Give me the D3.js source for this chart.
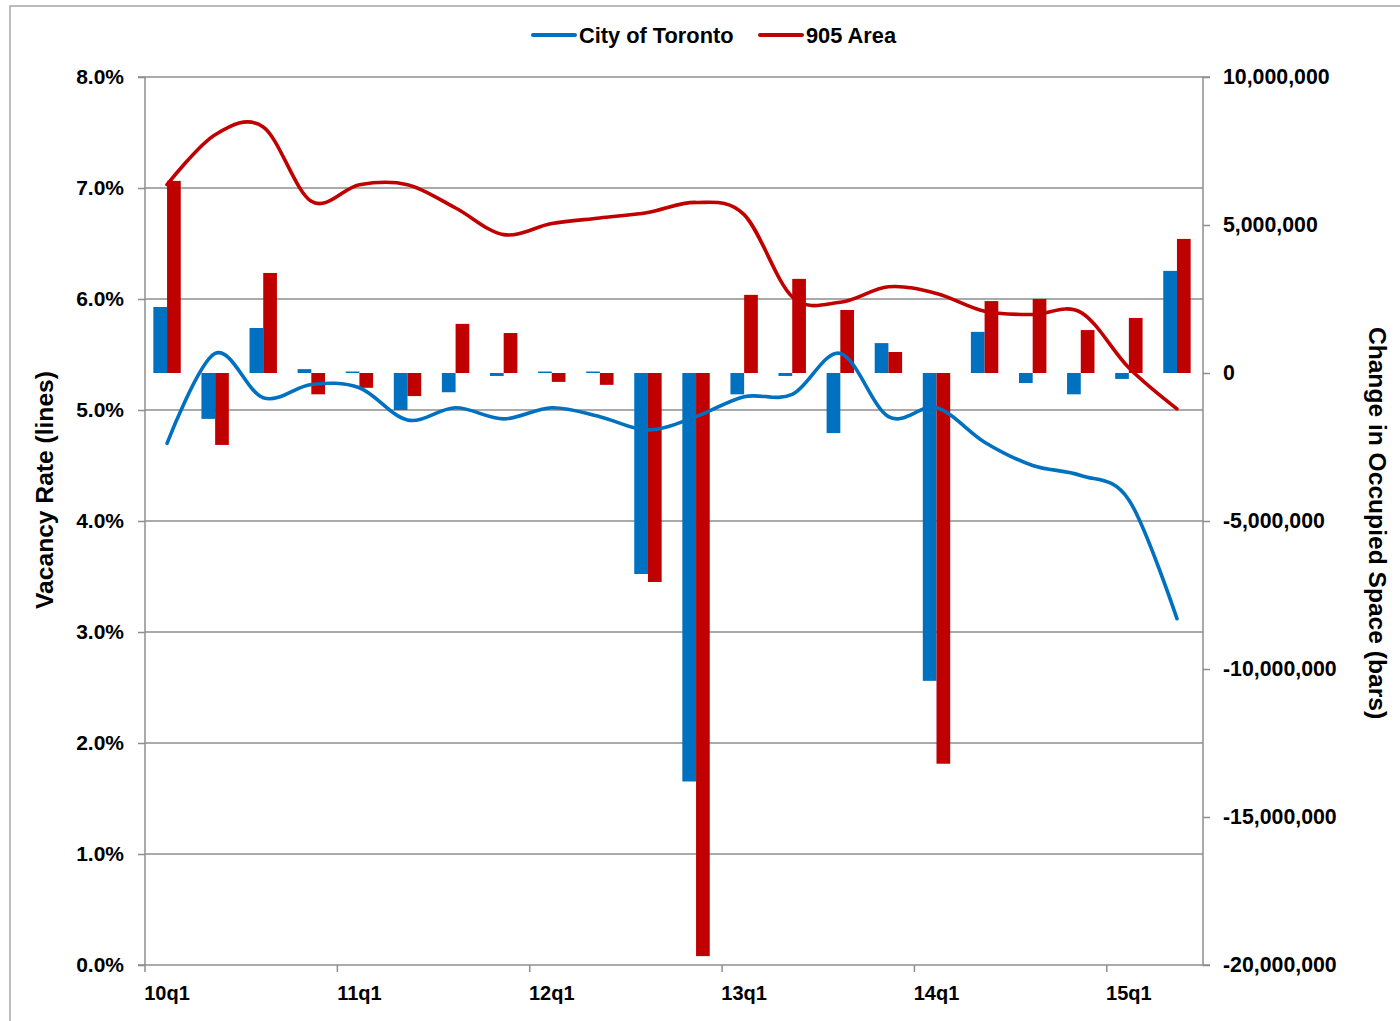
<!DOCTYPE html>
<html>
<head>
<meta charset="utf-8">
<script src="https://cdn.jsdelivr.net/npm/d3@7"></script>
<style>
  html, body { margin: 0; padding: 0; background: #fff; }
  svg { display: block; font-family: "Liberation Sans", Arial, sans-serif; font-weight: bold; }
</style>
</head>
<body>
<svg id="chart" width="1400" height="1021"></svg>
<script>
const quarters = ["10q1","10q2","10q3","10q4","11q1","11q2","11q3","11q4","12q1","12q2","12q3","12q4",
                  "13q1","13q2","13q3","13q4","14q1","14q2","14q3","14q4","15q1","15q2"];
const tickLabels = ["10q1","11q1","12q1","13q1","14q1","15q1"];
const seriesNames = ["City of Toronto","905 Area"];

// vacancy rate (%), lines
const torontoRate = [4.70,5.51,5.11,5.23,5.20,4.91,5.02,4.92,5.02,4.94,4.82,4.94,5.12,5.14,5.51,4.94,5.02,4.71,4.50,4.41,4.19,3.12];
const area905Rate = [7.03,7.48,7.55,6.88,7.03,7.03,6.82,6.58,6.68,6.73,6.78,6.87,6.76,6.02,5.97,6.11,6.05,5.89,5.86,5.88,5.38,5.01];

// change in occupied space, bars
const torontoChange = [2230000,-1550000,1520000,130000,50000,-1250000,-650000,-100000,50000,50000,-6790000,-13800000,
                       -720000,-100000,-2030000,1010000,-10400000,1390000,-340000,-720000,-200000,3450000];
const area905Change = [6490000,-2430000,3380000,-720000,-500000,-780000,1660000,1350000,-300000,-400000,-7060000,-19700000,
                       2640000,3180000,2130000,710000,-13200000,2430000,2500000,1450000,1860000,4530000];

const leftTicks = [0,1,2,3,4,5,6,7,8];
const rightTicks = [-20000000,-15000000,-10000000,-5000000,0,5000000,10000000];

const colors = ["#0070C0", "#C00000"];
const W = 1400, H = 1021;
const plot = {left: 145, right: 1203, top: 77, bottom: 965};
const gridColor = "#8e8e8e";

const svg = d3.select("#chart");

// outer frame
svg.append("rect").attr("x", 10).attr("y", 6).attr("width", W).attr("height", H)
  .attr("fill", "none").attr("stroke", "#a6a6a6").attr("stroke-width", 1.5);

const x = d3.scaleBand().domain(quarters).range([plot.left, plot.right]).paddingInner(0).paddingOuter(0);
const shift = -2;
const cx = q => x(q) + x.bandwidth() / 2 + shift;
const xSub = d3.scaleBand().domain([0,1]).range([-13.7, 13.7]);
const yL = d3.scaleLinear().domain([0, 8]).range([plot.bottom, plot.top]);
const yR = d3.scaleLinear().domain([-20000000, 10000000]).range([plot.bottom, plot.top]);

// gridlines
svg.append("g").selectAll("line").data(leftTicks.filter(d => d > 0)).join("line")
  .attr("x1", plot.left).attr("x2", plot.right)
  .attr("y1", d => yL(d)).attr("y2", d => yL(d))
  .attr("stroke", gridColor).attr("stroke-width", 1.5);

// bars
const barData = [];
quarters.forEach((q, i) => {
  barData.push({q, s: 0, v: torontoChange[i]});
  barData.push({q, s: 1, v: area905Change[i]});
});
svg.append("g").selectAll("rect").data(barData).join("rect")
  .attr("x", d => cx(d.q) + xSub(d.s))
  .attr("width", xSub.bandwidth())
  .attr("y", d => Math.min(yR(d.v), yR(0)))
  .attr("height", d => Math.max(1.5, Math.abs(yR(d.v) - yR(0))))
  .attr("fill", d => colors[d.s]);

// left axis
const leftAxis = d3.axisLeft(yL).tickValues(leftTicks).tickFormat(d => d3.format(".1f")(d) + "%").tickSize(7).tickPadding(14);
const gl = svg.append("g").attr("transform", `translate(${plot.left},0)`).call(leftAxis);
gl.select(".domain").attr("stroke", gridColor).attr("stroke-width", 1.5).attr("d", `M-7,${plot.top}H0V${plot.bottom}H-7`);
gl.selectAll(".tick line").attr("stroke", gridColor).attr("stroke-width", 1.5);
gl.selectAll(".tick text").attr("font-size", 21).attr("font-weight", "bold").attr("fill", "#000")
  .attr("font-family", "Liberation Sans, Arial, sans-serif");

// right axis
const fmtR = d => d3.format(",")(d).replace("\u2212", "-");
const rightAxis = d3.axisRight(yR).tickValues(rightTicks).tickFormat(fmtR).tickSize(7).tickPadding(13);
const gr = svg.append("g").attr("transform", `translate(${plot.right},0)`).call(rightAxis);
gr.select(".domain").attr("stroke", gridColor).attr("stroke-width", 1.5).attr("d", `M7,${plot.top}H0V${plot.bottom}H7`);
gr.selectAll(".tick line").attr("stroke", gridColor).attr("stroke-width", 1.5);
gr.selectAll(".tick text").attr("font-size", 21.3).attr("font-weight", "bold").attr("fill", "#000")
  .attr("font-family", "Liberation Sans, Arial, sans-serif");

// bottom axis
const gb = svg.append("g").attr("transform", `translate(0,${plot.bottom})`);
gb.append("line").attr("x1", plot.left).attr("x2", plot.right).attr("y1", 0).attr("y2", 0)
  .attr("stroke", gridColor).attr("stroke-width", 1.5);
const tickIdx = quarters.map((q, i) => i).filter(i => i % 4 === 0);
gb.selectAll(".tk").data(tickIdx).join("line").attr("class", "tk")
  .attr("x1", i => x(quarters[i])).attr("x2", i => x(quarters[i]))
  .attr("y1", 0).attr("y2", 7).attr("stroke", gridColor).attr("stroke-width", 1.5);
gb.selectAll(".tl").data(tickLabels).join("text").attr("class", "tl")
  .attr("x", d => cx(d)).attr("y", 35)
  .attr("text-anchor", "middle").attr("font-size", 20).attr("fill", "#000")
  .text(d => d);

// lines
const lineGen = d3.line().x((d, i) => cx(quarters[i])).y(d => yL(d)).curve(d3.curveCardinal.tension(0));
[torontoRate, area905Rate].forEach((arr, k) => {
  svg.append("path").datum(arr).attr("d", lineGen)
    .attr("fill", "none").attr("stroke", colors[k]).attr("stroke-width", 3.6)
    .attr("stroke-linecap", "round").attr("stroke-linejoin", "round");
});

// axis titles
svg.append("text").attr("transform", `translate(53,490) rotate(-90)`)
  .attr("text-anchor", "middle").attr("font-size", 24.6).attr("fill", "#000").text("Vacancy Rate (lines)");
svg.append("text").attr("transform", `translate(1369,${(plot.top + plot.bottom) / 2 + 2}) rotate(90)`)
  .attr("text-anchor", "middle").attr("font-size", 24.6).attr("fill", "#000").text("Change in Occupied Space (bars)");

// legend
const legendPos = [533, 760];
const lg = svg.append("g");
seriesNames.forEach((name, k) => {
  lg.append("line").attr("x1", legendPos[k]).attr("x2", legendPos[k] + 42).attr("y1", 35).attr("y2", 35)
    .attr("stroke", colors[k]).attr("stroke-width", 4).attr("stroke-linecap", "round");
  lg.append("text").attr("x", legendPos[k] + 46).attr("y", 35).attr("dy", "0.35em")
    .attr("font-size", 21.8).attr("fill", "#000").text(name);
});
</script>
</body>
</html>
